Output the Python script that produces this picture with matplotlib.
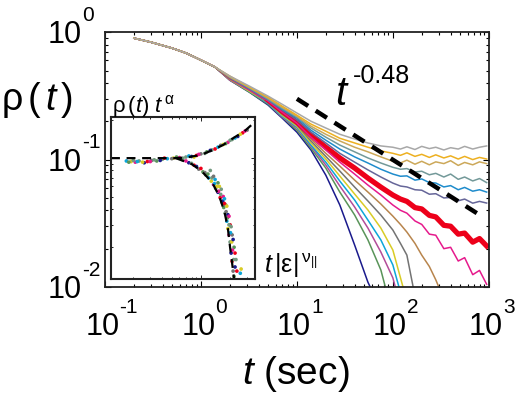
import matplotlib
matplotlib.use('Agg')
import matplotlib.pyplot as plt

plt.rcParams['font.family'] = ['Liberation Sans', 'DejaVu Sans']
plt.rcParams['mathtext.fontset'] = 'custom'
plt.rcParams['mathtext.rm'] = 'Liberation Sans'
plt.rcParams['mathtext.it'] = 'Liberation Sans:italic'

# ---------------------------------------------------------------
# data
t_early = [0.2, 0.3, 0.5, 0.7, 1.0, 1.4]
rho_early = [0.897, 0.835, 0.749, 0.685, 0.603, 0.532]
t_late = [2, 3.2, 5, 7, 10, 14, 20, 28, 40, 55, 75, 100, 120, 140, 170, 200,
          240, 280, 340, 400, 480, 560, 680, 800, 950]

# curves that survive up to the end
rho_gray = [0.452, 0.377, 0.315, 0.272, 0.232, 0.200, 0.177, 0.158, 0.145, 0.135,
            0.128, 0.125, 0.121, 0.126, 0.120, 0.127, 0.122, 0.125, 0.119, 0.124,
            0.121, 0.127, 0.121, 0.125, 0.128]
rho_orange = [0.452, 0.370, 0.309, 0.263, 0.223, 0.190, 0.167, 0.147, 0.135, 0.125,
              0.117, 0.112, 0.108, 0.113, 0.106, 0.110, 0.104, 0.109, 0.103, 0.107,
              0.101, 0.106, 0.100, 0.104, 0.101]
rho_gold = [0.444, 0.370, 0.304, 0.258, 0.219, 0.183, 0.158, 0.140, 0.125, 0.115,
            0.105, 0.097, 0.094, 0.099, 0.092, 0.097, 0.091, 0.096, 0.093, 0.098,
            0.090, 0.095, 0.091, 0.096, 0.093]
rho_teal = [0.444, 0.364, 0.298, 0.253, 0.216, 0.177, 0.150, 0.130, 0.115, 0.103,
            0.094, 0.087, 0.084, 0.085, 0.080, 0.081, 0.076, 0.078, 0.073, 0.077,
            0.070, 0.073, 0.068, 0.071, 0.066]
rho_blue = [0.444, 0.364, 0.298, 0.249, 0.212, 0.170, 0.142, 0.121, 0.105, 0.094,
            0.084, 0.077, 0.074, 0.0745, 0.069, 0.0705, 0.066, 0.0655, 0.061, 0.0625,
            0.058, 0.0605, 0.0565, 0.058, 0.0556]
rho_slate = [0.436, 0.357, 0.293, 0.245, 0.204, 0.164, 0.135, 0.112, 0.0955, 0.083,
             0.073, 0.0654, 0.062, 0.061, 0.058, 0.0575, 0.0535, 0.054, 0.050, 0.0505,
             0.0475, 0.049, 0.0455, 0.047, 0.0456]
rho_red = [0.436, 0.357, 0.293, 0.240, 0.197, 0.156, 0.125, 0.103, 0.0858, 0.0716,
           0.0608, 0.0527, 0.049, 0.047, 0.042, 0.041, 0.0365, 0.0355, 0.0305, 0.030,
           0.026, 0.0265, 0.0225, 0.024, 0.021]
rho_magenta = [0.436, 0.351, 0.288, 0.236, 0.193, 0.150, 0.119, 0.0955, 0.0769, 0.0631,
               0.0527, 0.044, 0.040, 0.038, 0.033, 0.031, 0.026, 0.0255, 0.020, 0.0205,
               0.016, 0.017, 0.0125, 0.0135, 0.0105]

# curves that fall out of the window (last point just below 10^-2)
rho_brown = [0.428, 0.351, 0.288, 0.232, 0.190, 0.145, 0.112, 0.0889, 0.069, 0.0556,
             0.0448, 0.036, 0.031, 0.027, 0.022, 0.0178, 0.0145, 0.0114, 0.0095]
rho_gray2 = [0.428, 0.351, 0.282, 0.227, 0.187, 0.140, 0.106, 0.0813, 0.0608, 0.0473,
             0.0367, 0.028, 0.022, 0.0178, 0.0095]
rho_yellow = [0.428, 0.344, 0.282, 0.223, 0.183, 0.135, 0.101, 0.0743, 0.0536, 0.0402,
              0.029, 0.0195, 0.0095]
rho_cyan = [0.428, 0.344, 0.277, 0.219, 0.180, 0.130, 0.0955, 0.0678, 0.0481, 0.0335,
            0.0234, 0.0149, 0.0095]
rho_purple = [0.420, 0.344, 0.277, 0.216, 0.177, 0.128, 0.0906, 0.062, 0.0424, 0.029,
              0.0188, 0.0118, 0.0095]
rho_green = [0.420, 0.338, 0.272, 0.216, 0.170, 0.123, 0.0858, 0.0556, 0.0367, 0.0234,
             0.0136, 0.0095]
rho_dkblue = [0.420, 0.338, 0.268, 0.212, 0.164, 0.119, 0.0755, 0.044, 0.0213, 0.0109,
              0.0095]
t_drop = {'brown': 310, 'gray2': 165, 'yellow': 130, 'cyan': 118,
          'purple': 108, 'green': 85, 'dkblue': 60}

# power law guide t^-0.48
t_fit = [10, 750]
rho_fit = [0.30, 0.038]

# tick labels (MATLAB style 10^n)
x_ticks = [0.1, 1, 10, 100, 1000]
x_exp = ['-1', '0', '1', '2', '3']
y_ticks = [0.01, 0.1, 1]
y_exp = ['-2', '-1', '0']

# inset: data collapse
xs_up = [0.17, 0.19, 0.21, 0.23, 0.26, 0.28, 0.31, 0.35, 0.40, 0.45, 0.52, 0.6,
         0.7, 0.8, 0.9, 1.0, 1.15, 1.3, 1.5, 1.7, 1.9, 2.1, 2.4, 2.7, 3.0,
         0.18, 0.2, 0.22, 0.25, 0.3, 0.33, 0.38, 0.42, 0.5, 0.56, 0.65, 0.75,
         0.85, 0.95, 1.1, 1.25, 1.4, 1.6, 1.8, 2.0, 2.25, 2.55, 2.85]
ys_up = [0.95, 0.94, 0.93, 0.95, 0.92, 0.94, 0.96, 0.95, 0.98, 0.99, 1.0, 1.01,
         1.02, 1.03, 1.05, 1.08, 1.12, 1.16, 1.22, 1.28, 1.33, 1.4, 1.48, 1.58, 1.66,
         0.93, 0.96, 0.94, 0.93, 0.94, 0.97, 0.96, 1.0, 0.99, 1.02, 1.0, 1.04,
         1.02, 1.07, 1.09, 1.15, 1.18, 1.26, 1.3, 1.38, 1.44, 1.54, 1.63]
xs_low = [0.65, 0.75, 0.85, 0.95, 1.05, 1.12, 1.2, 1.28, 1.35, 1.42, 1.5, 1.58,
          1.65, 1.72, 1.78, 1.85, 1.9, 1.95, 2.0, 2.05, 2.1, 2.15, 2.2,
          1.25, 1.4, 1.55, 1.7, 1.8, 1.9, 2.0, 2.1, 2.2, 2.3, 2.55, 2.6,
          0.7, 0.8, 0.9, 1.0, 1.1, 1.18, 1.3, 1.38, 1.45, 1.52, 1.6, 1.68, 1.75,
          1.82, 1.88, 1.95, 2.02, 2.08, 2.12, 2.18, 2.25, 2.35,
          1.35, 1.5, 1.62, 1.75, 1.85, 1.95, 2.05, 2.15, 2.25]
ys_low = [0.97, 0.92, 0.88, 0.82, 0.78, 0.74, 0.70, 0.66, 0.62, 0.58, 0.54, 0.49,
          0.45, 0.41, 0.37, 0.32, 0.28, 0.25, 0.22, 0.18, 0.155, 0.13, 0.118,
          0.80, 0.68, 0.60, 0.50, 0.43, 0.36, 0.30, 0.25, 0.20, 0.16, 0.125, 0.135,
          0.95, 0.91, 0.86, 0.83, 0.77, 0.75, 0.70, 0.63, 0.60, 0.55, 0.52, 0.46, 0.44,
          0.38, 0.34, 0.30, 0.26, 0.22, 0.19, 0.16, 0.14, 0.13,
          0.72, 0.64, 0.57, 0.48, 0.42, 0.35, 0.29, 0.23, 0.18]
x_theory = [0.118, 0.55, 0.7, 1.0, 1.3, 1.7, 2.2, 2.8, 3.6]
y_theory_up = [1.0, 1.0, 1.01, 1.06, 1.15, 1.27, 1.45, 1.62, 1.92]
x_theory_low = [0.55, 0.8, 1.0, 1.3, 1.55, 1.75, 1.9, 2.0, 2.1, 2.2]
y_theory_low = [1.0, 0.9, 0.8, 0.65, 0.5, 0.38, 0.28, 0.2, 0.15, 0.112]

# ---------------------------------------------------------------
fig = plt.figure(figsize=(5.2, 3.97), dpi=100)
ax = fig.add_axes([0.202, 0.277, 0.738, 0.642])

dropping = [(rho_dkblue, 'dkblue', (0.10, 0.10, 0.55)),
            (rho_green, 'green', (0.35, 0.58, 0.35)),
            (rho_purple, 'purple', (0.70, 0.30, 0.60)),
            (rho_cyan, 'cyan', (0.05, 0.65, 0.85)),
            (rho_yellow, 'yellow', (0.85, 0.80, 0.15)),
            (rho_gray2, 'gray2', (0.45, 0.45, 0.45)),
            (rho_brown, 'brown', (0.72, 0.52, 0.30))]
for rho, name, col in dropping:
    tt = t_early + t_late[:len(rho) - 1] + [t_drop[name]]
    ax.plot(tt, rho_early + rho, color=col, lw=1.1)

red = (0.93, 0.0, 0.1)
ax.plot(t_early + t_late, rho_early + rho_red, color=red, lw=1.3)
ax.plot(t_late[2:], rho_red[2:], color=red, lw=3.8)

full = [(rho_magenta, (0.90, 0.10, 0.55)),
        (rho_slate, (0.40, 0.40, 0.60)),
        (rho_blue, (0.12, 0.55, 0.80)),
        (rho_teal, (0.45, 0.60, 0.60)),
        (rho_gold, (0.80, 0.66, 0.35)),
        (rho_orange, (0.93, 0.69, 0.13)),
        (rho_gray, (0.66, 0.66, 0.66))]
for rho, col in full:
    ax.plot(t_early + t_late, rho_early + rho, color=col, lw=1.1)

ax.plot(t_fit, rho_fit, color='k', lw=3.2, ls=(0, (3, 2)))

ax.set_xscale('log')
ax.set_yscale('log')
ax.set_xlim(0.1, 1000)
ax.set_ylim(0.01, 1)
ax.set_xticks(x_ticks)
ax.set_yticks(y_ticks)
ax.set_xticklabels([])
ax.set_yticklabels([])
ax.tick_params(which='both', direction='in', top=True, right=True, width=0.8)
ax.tick_params(which='major', length=4)
ax.tick_params(which='minor', length=2)
for s in ax.spines.values():
    s.set_linewidth(1.3)
    s.set_color('#222222')

# MATLAB-like "10" with raised exponent
for v, e in zip(x_ticks, x_exp):
    ax.annotate('10', xy=(v, 0), xycoords=('data', 'axes fraction'),
                xytext=(-2, -34.5), textcoords='offset points',
                ha='center', va='baseline', fontsize=22, annotation_clip=False)
    ax.annotate(e, xy=(v, 0), xycoords=('data', 'axes fraction'),
                xytext=(10.2, -18.5), textcoords='offset points',
                ha='left', va='baseline', fontsize=15, annotation_clip=False)
for v, e in zip(y_ticks, y_exp):
    ax.annotate('10', xy=(0, v), xycoords=('axes fraction', 'data'),
                xytext=(-16.6, -7.9), textcoords='offset points',
                ha='right', va='baseline', fontsize=22, annotation_clip=False)
    ax.annotate(e, xy=(0, v), xycoords=('axes fraction', 'data'),
                xytext=(-16.6, 8.3), textcoords='offset points',
                ha='left', va='baseline', fontsize=15, annotation_clip=False)

fig.text(0.644, 0.736, 't', style='italic', fontsize=29, va='baseline')
fig.text(0.678, 0.792, '-0.48', fontsize=18, va='baseline')

fig.text(0.071, 0.748, r'$\mathrm{\rho\,(}\,\mathit{t}\,\mathrm{)}$',
         fontsize=27, ha='center', va='center')
fig.text(0.569, 0.058, r'$\mathit{t}\ \mathrm{(sec)}$',
         fontsize=28, ha='center', va='center')

# inset
ins = fig.add_axes([0.2135, 0.297, 0.2765, 0.408])
cols = [(0.05, 0.65, 0.85), (0.85, 0.80, 0.15), (0.90, 0.10, 0.55),
        (0.45, 0.60, 0.50), (0.10, 0.10, 0.55), (0.93, 0.0, 0.1),
        (0.45, 0.45, 0.45), (0.35, 0.58, 0.35), (0.45, 0.60, 0.50)]
ins.scatter(xs_up, ys_up, s=7, c=[cols[i % len(cols)] for i in range(len(xs_up))],
            linewidths=0)
ins.scatter(xs_low, ys_low, s=7, c=[cols[(i + 3) % len(cols)] for i in range(len(xs_low))],
            linewidths=0)
ins.plot(x_theory, y_theory_up, color='k', lw=1.6, ls=(0, (4, 3)))
ins.plot(x_theory_low, y_theory_low, color='k', lw=1.6, ls=(0, (4, 3)))
ins.set_xscale('log')
ins.set_yscale('log')
ins.set_xlim(0.118, 3.6)
ins.set_ylim(0.1125, 2.098)
ins.tick_params(which='both', direction='in', top=True, right=True,
                labelbottom=False, labelleft=False, width=0.6)
ins.tick_params(which='major', length=3)
ins.tick_params(which='minor', length=1.5)
for s in ins.spines.values():
    s.set_linewidth(1.5)
    s.set_color('#222222')

fig.text(0.215, 0.718, r'$\mathrm{\rho\,(}\mathit{t}\mathrm{)\ }\mathit{t}^{\,\mathrm{\alpha}}$',
         fontsize=16, va='baseline')
fig.text(0.508, 0.312, r'$\mathit{t}\,\mathrm{|\varepsilon|}^{\,\mathrm{\nu}_{||}}$',
         fontsize=18, va='baseline')

fig.savefig('out.png', dpi=100)
